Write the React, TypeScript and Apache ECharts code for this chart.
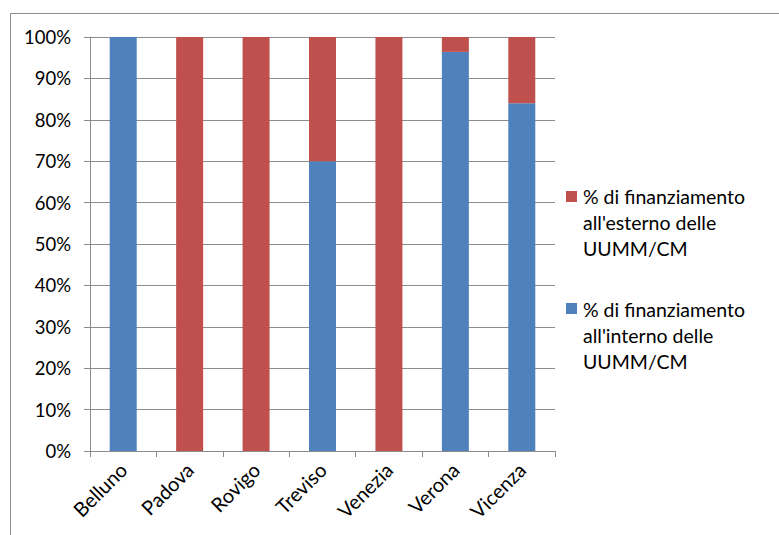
import React, { useEffect, useRef } from "react";
import * as echarts from "echarts";

const categories = ["Belluno", "Padova", "Rovigo", "Treviso", "Venezia", "Verona", "Vicenza"];
const internoName = "% di finanziamento\nall'interno delle\nUUMM/CM";
const esternoName = "% di finanziamento\nall'esterno delle\nUUMM/CM";
const internoValues = [100, 0, 0, 70, 0, 96.4, 84];
const esternoValues = [0, 100, 100, 30, 100, 3.6, 16];
const yTicks = [0, 10, 20, 30, 40, 50, 60, 70, 80, 90, 100];

const BLUE = "#4F81BD";
const RED = "#C0504D";
const FONT = "Lato, 'Noto Sans', sans-serif";

export default function App() {
  const ref = useRef<HTMLDivElement>(null);
  useEffect(() => {
    if (!ref.current) return;
    const chart = echarts.init(ref.current, null, { renderer: "svg" });
    chart.setOption({
      animation: false,
      backgroundColor: "#ffffff",
      textStyle: { fontFamily: FONT },
      grid: { left: 90, top: 37, width: 465, height: 414, containLabel: false },
      xAxis: {
        type: "category",
        data: categories,
        axisLine: { lineStyle: { color: "#8c8c8c", width: 1 } },
        axisTick: { show: true, alignWithLabel: false, length: 6, lineStyle: { color: "#8c8c8c" } },
        axisLabel: { rotate: 45, margin: 15, color: "#000", fontSize: 20, fontFamily: FONT, interval: 0 },
      },
      yAxis: {
        type: "value",
        min: yTicks[0],
        max: yTicks[yTicks.length - 1],
        interval: 10,
        axisLine: { show: true, lineStyle: { color: "#8c8c8c", width: 1 } },
        axisTick: { show: true, length: 6, lineStyle: { color: "#8c8c8c" } },
        axisLabel: { formatter: "{value}%", margin: 19, color: "#000", fontSize: 18.5, fontFamily: FONT },
        splitLine: { show: true, lineStyle: { color: "#8c8c8c", width: 1 } },
      },
      series: [
        {
          name: internoName,
          type: "bar",
          stack: "total",
          data: internoValues,
          barWidth: 27,
          itemStyle: { color: BLUE },
        },
        {
          name: esternoName,
          type: "bar",
          stack: "total",
          data: esternoValues,
          barWidth: 27,
          itemStyle: { color: RED },
        },
      ],
      graphic: [
        { type: "line", shape: { x1: 10.5, y1: 13.5, x2: 779, y2: 13.5 }, style: { stroke: "#8c8c8c", lineWidth: 1 } },
        { type: "line", shape: { x1: 10.5, y1: 13.5, x2: 10.5, y2: 535 }, style: { stroke: "#8c8c8c", lineWidth: 1 } },
        { type: "rect", shape: { x: 566, y: 191, width: 11, height: 11 }, style: { fill: RED } },
        {
          type: "text",
          x: 583,
          y: 183,
          style: { text: esternoName, fill: "#000", font: `19.5px ${FONT}`, lineHeight: 26, verticalAlign: "top" },
        },
        { type: "rect", shape: { x: 566, y: 303, width: 11, height: 11 }, style: { fill: BLUE } },
        {
          type: "text",
          x: 583,
          y: 296,
          style: { text: internoName, fill: "#000", font: `19.5px ${FONT}`, lineHeight: 26, verticalAlign: "top" },
        },
      ],
    });
    return () => chart.dispose();
  }, []);
  return (
    <div
      ref={ref}
      style={{ position: "absolute", left: 0, top: 0, width: 779, height: 535 }}
    />
  );
}
